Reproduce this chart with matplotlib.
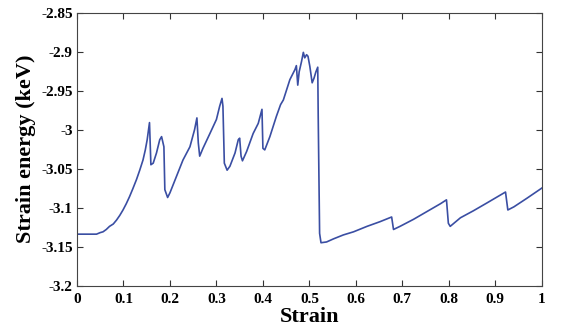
import matplotlib
matplotlib.use('Agg')
import matplotlib.pyplot as plt

# Values
strain = [
    0.0, 0.02, 0.042, 0.05, 0.056, 0.063, 0.07, 0.078, 0.085, 0.092, 0.099,
    0.106, 0.113, 0.12, 0.128, 0.135, 0.142, 0.147, 0.151, 0.156,
    0.159, 0.164, 0.171, 0.178, 0.182, 0.187, 0.189, 0.195, 0.2, 0.214, 0.228,
    0.243, 0.253, 0.258, 0.261, 0.264, 0.271, 0.286, 0.3, 0.307, 0.312, 0.314,
    0.317, 0.323, 0.329, 0.34, 0.347, 0.35, 0.353, 0.356, 0.365, 0.379, 0.39,
    0.398, 0.4, 0.404, 0.415, 0.429, 0.438, 0.444, 0.458, 0.469, 0.472, 0.475,
    0.478, 0.483, 0.487, 0.49, 0.494, 0.497, 0.501, 0.506, 0.51, 0.514, 0.518,
    0.519, 0.522, 0.525, 0.537, 0.552, 0.573, 0.595, 0.624, 0.652, 0.677,
    0.681, 0.695, 0.724, 0.753, 0.782, 0.795, 0.799, 0.803, 0.825, 0.853,
    0.882, 0.922, 0.927, 0.94, 0.968, 1.0,
]
energy = [
    -3.134, -3.134, -3.134, -3.132, -3.131, -3.128, -3.124, -3.121, -3.116,
    -3.110, -3.103, -3.095, -3.086, -3.076, -3.064, -3.052, -3.039, -3.026,
    -3.013, -2.991, -3.045, -3.043, -3.030, -3.013, -3.009, -3.022, -3.077,
    -3.087, -3.081, -3.060, -3.039, -3.022, -3.000, -2.985, -3.017, -3.034,
    -3.024, -3.005, -2.987, -2.970, -2.960, -2.970, -3.043, -3.052, -3.047,
    -3.030, -3.013, -3.011, -3.034, -3.040, -3.028, -3.005, -2.992, -2.974,
    -3.024, -3.026, -3.009, -2.983, -2.968, -2.962, -2.936, -2.923, -2.918,
    -2.943, -2.926, -2.913, -2.901, -2.908, -2.904, -2.906, -2.919, -2.940,
    -2.934, -2.926, -2.920, -2.983, -3.133, -3.145, -3.144, -3.140, -3.135,
    -3.131, -3.124, -3.118, -3.112, -3.128, -3.124, -3.115, -3.105, -3.095,
    -3.090, -3.120, -3.124, -3.113, -3.104, -3.094, -3.080, -3.103, -3.099,
    -3.088, -3.075,
]

xticks = [0, 0.1, 0.2, 0.3, 0.4, 0.5, 0.6, 0.7, 0.8, 0.9, 1]
xticklabels = ['0', '0.1', '0.2', '0.3', '0.4', '0.5', '0.6', '0.7', '0.8', '0.9', '1']
yticks = [-3.2, -3.15, -3.1, -3.05, -3.0, -2.95, -2.9, -2.85]
yticklabels = ['-3.2', '-3.15', '-3.1', '-3.05', '-3', '-2.95', '-2.9', '-2.85']

plt.rcParams['font.family'] = ['Liberation Serif', 'DejaVu Serif']
plt.rcParams['font.weight'] = 'bold'

fig = plt.figure(figsize=(5.62, 3.31), dpi=100)
ax = fig.add_axes([0.137, 0.137, 0.827, 0.825])
ax.plot(strain, energy, color='#3a4ea3', linewidth=1.2)

ax.set_xlim(0, 1)
ax.set_ylim(-3.2, -2.85)
ax.set_xticks(xticks)
ax.set_xticklabels(xticklabels)
ax.set_yticks(yticks)
ax.set_yticklabels(yticklabels)
ax.tick_params(direction='in', top=True, right=True, length=4, width=0.8,
               labelsize=11, colors='#333333', labelcolor='black')
ax.tick_params(axis='x', pad=5)
ax.tick_params(axis='y', pad=3)
for s in ax.spines.values():
    s.set_color('#444444')
    s.set_linewidth(0.8)

ax.set_xlabel('Strain', fontsize=16, fontweight='bold', labelpad=1)
ax.set_ylabel('Strain energy (keV)', fontsize=16, fontweight='bold', labelpad=4)

fig.savefig('out.png', dpi=100)
